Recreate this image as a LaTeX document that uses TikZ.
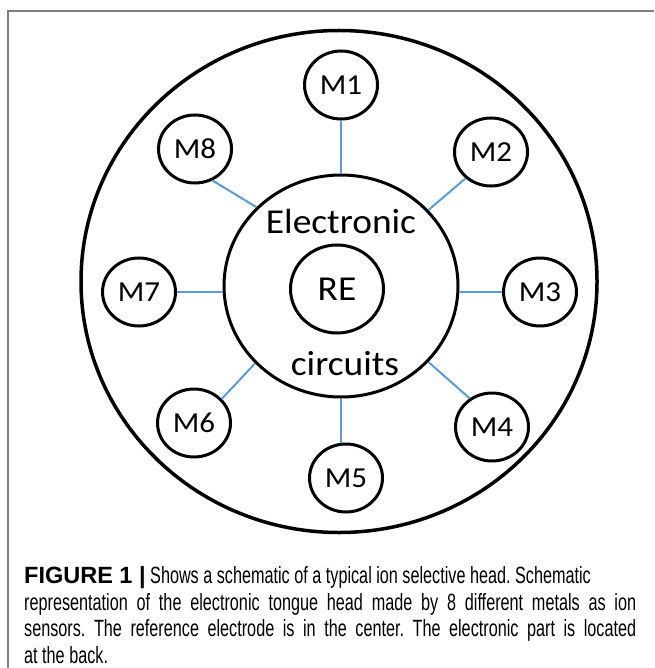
\documentclass[tikz,border=0pt]{standalone}
\usepackage{fontspec}
\setmainfont{Liberation Sans}[FakeStretch=0.69]
\newfontfamily\capbold{Liberation Sans}
\newfontfamily\headfont{Carlito}[FakeStretch=1.07]
\usetikzlibrary{shapes.geometric,positioning}
\definecolor{wireblue}{RGB}{91,155,213}
\definecolor{framegray}{RGB}{125,125,125}
\frenchspacing

\begin{document}
\begin{tikzpicture}[
	x=1pt,y=-1pt,
	head/.style={
		draw,
		ellipse,
		line width=3.5pt,
		inner sep=0pt,
		minimum width=516pt,
		minimum height=502pt
	},
	board/.style={
		draw,
		ellipse,
		line width=3pt,
		inner sep=0pt,
		minimum width=234pt,
		minimum height=222pt
	},
	refel/.style={
		draw,
		ellipse,
		line width=3pt,
		inner sep=0pt,
		font=\headfont\fontsize{35}{35}\selectfont,
		minimum width=93pt,
		minimum height=88pt
	},
	metal/.style={
		draw,
		ellipse,
		line width=3pt,
		inner sep=0pt,
		font=\headfont\fontsize{29}{29}\selectfont,
		minimum width=73pt,
		minimum height=68pt
	},
	boardtext/.style={
		anchor=base,
		inner sep=0pt,
		font=\headfont\fontsize{35}{35}\selectfont
	},
	wire/.style={
		draw=wireblue,
		line width=2pt
	}
	]
	
	\useasboundingbox (0,0) rectangle (654,668);
	
	% Frame
	\draw[framegray,line width=1.5pt] (8,668) -- (8,11) -- (654,11);
	
	% Head and electronics
	\node[head] (head) at (339,281.5) {};
	\node[board] (circ) at (341,286) {};
	\node[refel] (re) at (337,289) {RE};
	\node[boardtext] (elec) at (341,233) {Electronic};
	\node[boardtext] (circuits) at (345,375) {circuits};
	
	% Metals
	\node[metal] (m1) at (341,85) {M1};
	\node[metal] (m2) at (491,152) {M2};
	\node[metal] (m3) at (540,292) {M3};
	\node[metal] (m4) at (492,427) {M4};
	\node[metal] (m5) at (346,478) {M5};
	\node[metal] (m6) at (194,423) {M6};
	\node[metal] (m7) at (139,292) {M7};
	\node[metal] (m8) at (195,149) {M8};
	
	% Wires to the board
	\draw[wire] (m1.south) -- (circ.north);
	\draw[wire] (m2.-134) -- (circ.41);
	\draw[wire] (m3.west) -- (m3.west -| circ.east);
	\draw[wire] (m4.128) -- (circ.-41);
	\draw[wire] (circ.south) -- (circ.south |- m5.north);
	\draw[wire] (m6.41) -- (circ.222);
	\draw[wire] (m7.east) -- (m7.east -| circ.west);
	\draw[wire] (m8.-61) -- (circ.137);
	
	% Caption
	\node[anchor=base west,align=left,inner sep=0pt,
		font=\fontsize{23.5}{26.5}\selectfont] (caption) at (24,663)
	{{\capbold\bfseries FIGURE 1 |} Shows a schematic of a typical ion selective head. Schematic\\
		\makebox[612pt][s]{representation of the electronic tongue head made by 8 different metals as ion}\\
		\makebox[612pt][s]{sensors. The reference electrode is in the center. The electronic part is located}\\
		at the back.};
	
\end{tikzpicture}
\end{document}
